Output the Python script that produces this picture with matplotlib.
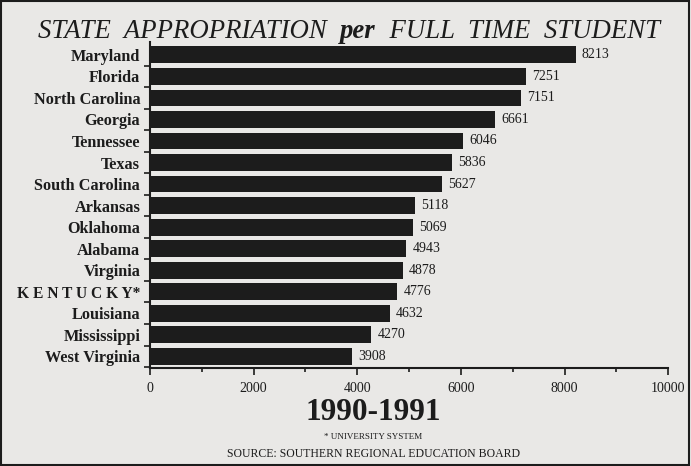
import matplotlib
matplotlib.use("Agg")
import matplotlib.pyplot as plt
from matplotlib.patches import Rectangle

states = ["Maryland", "Florida", "North Carolina", "Georgia", "Tennessee", "Texas",
          "South Carolina", "Arkansas", "Oklahoma", "Alabama", "Virginia",
          "K E N T U C K Y*", "Louisiana", "Mississippi", "West Virginia"]
values = [8213, 7251, 7151, 6661, 6046, 5836, 5627, 5118, 5069, 4943, 4878,
          4776, 4632, 4270, 3908]
xticks = [0, 2000, 4000, 6000, 8000, 10000]

bg = "#e9e8e6"
ink = "#1c1c1c"
serif = ["Liberation Serif", "DejaVu Serif"]

W, H = 691, 466
fig = plt.figure(figsize=(W / 100, H / 100), dpi=100, facecolor=bg)
fig.patches.append(Rectangle((0.002, 0.003), 0.995, 0.994, transform=fig.transFigure,
                             fill=False, edgecolor=ink, linewidth=1.5))
ax = fig.add_axes([0.217, 0.21, 0.75, 0.70])
ax.set_facecolor(bg)

ypos = list(range(len(states)))
ax.barh(ypos, values, height=0.78, color=ink)
for y, v in zip(ypos, values):
    ax.text(v + 120, y, str(v), va="center", ha="left", fontsize=10,
            family=serif, color=ink)

ax.set_ylim(len(states) - 0.45, -0.6)
ax.set_xlim(0, 10000)
ax.set_yticks(ypos)
ax.set_yticklabels(states, family=serif, fontsize=11.7, weight="bold", color=ink)
for lbl in ax.get_yticklabels():
    if lbl.get_text().startswith("K E N"):
        lbl.set_fontsize(11.2)
ax.set_yticks([y + 0.5 for y in ypos], minor=True)
ax.tick_params(axis="y", which="major", length=0, pad=7)
ax.tick_params(axis="y", which="minor", length=4, width=1.2, color=ink)
ax.set_xticks(xticks)
ax.set_xticklabels([str(t) for t in xticks], family=serif, fontsize=10, color=ink)
ax.set_xticks([1000, 3000, 5000, 7000, 9000], minor=True)
ax.tick_params(axis="x", which="major", length=5, width=1.2, color=ink, pad=5)
ax.tick_params(axis="x", which="minor", length=3, width=1.2, color=ink)
for s in ["top", "right"]:
    ax.spines[s].set_visible(False)
for s in ["left", "bottom"]:
    ax.spines[s].set_linewidth(1.5)
    ax.spines[s].set_color(ink)

# title assembled from three pieces, fitted to the reference width
title_parts = [("STATE  APPROPRIATION  ", "normal"), ("per", "bold"),
               ("  FULL  TIME  STUDENT", "normal")]
tsize = 20.5
base_y = 1 - 38 / H
target_w = 622
renderer = fig.canvas.get_renderer()
texts = []
for s, w in title_parts:
    t = fig.text(0, base_y, s, ha="left", va="baseline", family=serif,
                 style="italic", weight=w, fontsize=tsize, color=ink)
    texts.append(t)
total = sum(t.get_window_extent(renderer).width for t in texts)
tsize *= target_w / total
for t in texts:
    t.set_fontsize(tsize)
widths = [t.get_window_extent(renderer).width for t in texts]
x0 = 349 - sum(widths) / 2
for t, wd in zip(texts, widths):
    t.set_x(x0 / W)
    x0 += wd

fig.text(0.54, 0.115, "1990-1991", ha="center", va="center", family=serif,
         weight="bold", fontsize=22.5, color=ink)
fig.text(0.54, 0.062, "* UNIVERSITY SYSTEM", ha="center", va="center",
         family=serif, fontsize=6.5, color=ink)
fig.text(0.54, 0.025, "SOURCE: SOUTHERN REGIONAL EDUCATION BOARD", ha="center",
         va="center", family=serif, fontsize=8.5, color=ink)

fig.savefig("out.png", dpi=100, facecolor=bg)
